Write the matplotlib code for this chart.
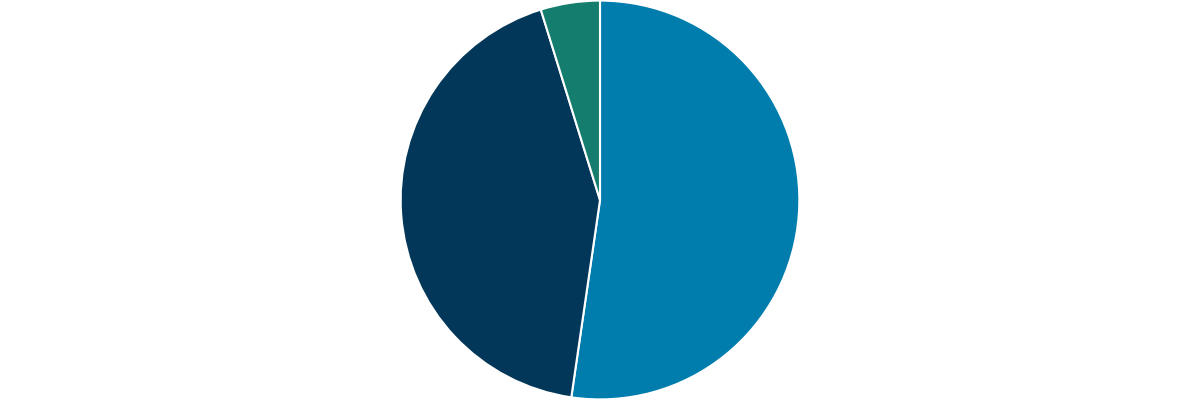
import matplotlib
matplotlib.use("Agg")
import matplotlib.pyplot as plt

labels = ["A", "B", "C"]
values = [52.3, 42.9, 4.8]
colors = ["#007DAD", "#02375A", "#147D6E"]

fig = plt.figure(figsize=(12, 4), dpi=100)
ax = fig.add_axes([0, 0, 1, 1])
ax.pie(values, colors=colors, startangle=90, counterclock=False,
       wedgeprops=dict(edgecolor="white", linewidth=1.5))
ax.set_aspect("equal", adjustable="datalim")
ax.set_ylim(-1.003, 1.003)
ax.set_xlim(-3.01, 3.01)
ax.axis("off")
fig.savefig("out.png", dpi=100)
